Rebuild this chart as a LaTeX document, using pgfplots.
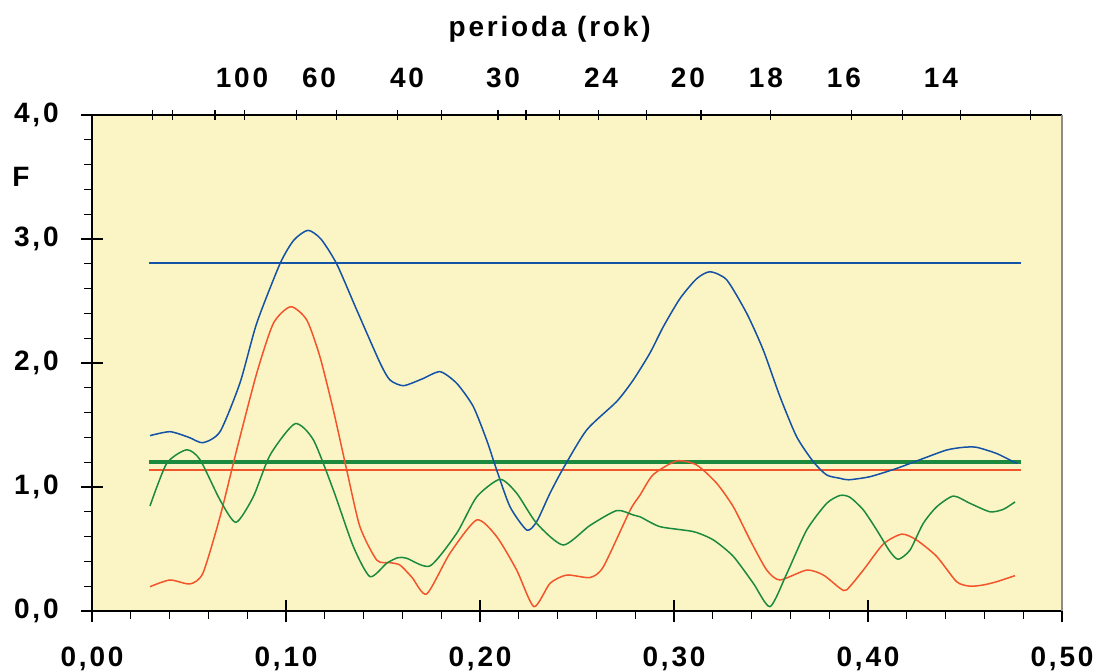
\documentclass[border=0pt]{standalone}
\usepackage{fontspec}
\setmainfont{Liberation Sans}[LetterSpace=10]
\usepackage{pgfplots}
\pgfplotsset{compat=1.18}
\definecolor{bgy}{RGB}{251,245,197}
\definecolor{cblue}{RGB}{20,82,165}
\definecolor{cred}{RGB}{242,84,44}
\definecolor{cgreen}{RGB}{28,138,62}
\newcommand{\lf}{\fontsize{14}{16}\selectfont\bfseries}
\begin{document}
\begin{tikzpicture}
\path[use as bounding box] (-46pt,-30.5pt) rectangle (502.5pt,305.5pt);
\begin{axis}[at={(0,0)}, anchor=south west, scale only axis,
  width=485pt, height=248pt,
  xmin=0, xmax=0.5, ymin=0, ymax=4,
  axis x line*=bottom, axis y line*=left,
  axis line style={line width=0.75pt, black, -},
  axis background/.style={fill=bgy},
  xtick={0,0.1,0.2,0.3,0.4,0.5},
  xticklabels={{0,00},{0,10},{0,20},{0,30},{0,40},{0,50}},
  ytick={0,1,2,3,4},
  yticklabels={{0,0},{1,0},{2,0},{3,0},{4,0}},
  minor x tick num=4, minor y tick num=4,
  tick align=outside,
  major tick length=5.5pt, minor tick length=3.8pt,
  tick style={black, line width=0.6pt},
  extra x ticks={0,0.1,0.2,0.3,0.4,0.5}, extra x tick labels={},
  extra y ticks={0,1,2,3,4}, extra y tick labels={},
  extra tick style={tick align=inside, minor tick num=0},
  tick label style={font=\lf},
  yticklabel style={anchor=east, inner sep=0pt, xshift=-11pt},
  xticklabel style={anchor=base, inner sep=0pt, yshift=-22.5pt},
  clip=false,
]
% threshold lines
\addplot[cblue, line width=1.2pt] coordinates {(0.0294,2.806) (0.479,2.806)};
\addplot[cgreen, line width=2pt] coordinates {(0.0294,1.200) (0.479,1.200)};
\addplot[cred, line width=1.3pt] coordinates {(0.0294,1.137) (0.479,1.137)};
% blue curve
\addplot[cblue, line width=0.75pt, smooth, tension=0.4] coordinates {
(0.0299,1.414) (0.0402,1.446) (0.050,1.40) (0.0572,1.357) (0.066,1.446)
(0.0763,1.84) (0.0849,2.32) (0.0969,2.80) (0.104,2.99) (0.1113,3.07)
(0.118,3.00) (0.1261,2.80) (0.1364,2.43) (0.1485,2.00) (0.1536,1.863)
(0.1605,1.817) (0.1700,1.87) (0.1794,1.93) (0.188,1.836) (0.1965,1.65)
(0.2034,1.38) (0.2086,1.137) (0.2155,0.84) (0.2241,0.653) (0.2292,0.72)
(0.2361,0.95) (0.2429,1.15) (0.255,1.46) (0.2705,1.69) (0.279,1.863)
(0.2876,2.08) (0.2945,2.293) (0.3031,2.52) (0.3117,2.68) (0.3186,2.736)
(0.3272,2.67) (0.3375,2.40) (0.346,2.105) (0.3546,1.73) (0.3632,1.406)
(0.3718,1.204) (0.3787,1.097) (0.3856,1.07) (0.390,1.058) (0.401,1.083)
(0.4148,1.15) (0.4285,1.23) (0.4405,1.298) (0.4491,1.32) (0.456,1.32)
(0.4663,1.27) (0.4749,1.204) (0.477,1.19)};
% red curve
\addplot[cred, line width=0.75pt, smooth, tension=0.4] coordinates {
(0.0299,0.196) (0.0402,0.25) (0.0505,0.218) (0.0572,0.306) (0.066,0.76)
(0.0746,1.30) (0.0849,1.917) (0.0935,2.32) (0.1024,2.454) (0.1107,2.347)
(0.1175,2.05) (0.1244,1.62) (0.1313,1.137) (0.1381,0.68) (0.1468,0.41)
(0.1536,0.39) (0.1588,0.37) (0.1650,0.27) (0.1725,0.137) (0.1845,0.465)
(0.1983,0.734) (0.2086,0.60) (0.2189,0.33) (0.2278,0.035) (0.2361,0.223)
(0.2447,0.29) (0.2567,0.27) (0.2636,0.357) (0.2773,0.81) (0.2825,0.935)
(0.2893,1.10) (0.3014,1.21) (0.3117,1.177) (0.322,1.03) (0.3306,0.84)
(0.3392,0.573) (0.3478,0.33) (0.3546,0.25) (0.3684,0.33) (0.377,0.29)
(0.3856,0.183) (0.389,0.17) (0.3976,0.33) (0.4079,0.54) (0.4174,0.62)
(0.425,0.573) (0.4354,0.44) (0.4457,0.236) (0.4526,0.20) (0.4595,0.21)
(0.4663,0.236) (0.4758,0.285)};
% green curve
\addplot[cgreen, line width=0.75pt, smooth, tension=0.4] coordinates {
(0.0299,0.847) (0.0385,1.19) (0.0488,1.30) (0.0557,1.22) (0.066,0.895)
(0.0742,0.715) (0.0831,0.92) (0.0918,1.258) (0.1046,1.51) (0.1141,1.38)
(0.1244,0.976) (0.1347,0.52) (0.1433,0.277) (0.1519,0.385) (0.1577,0.43)
(0.1622,0.425) (0.1742,0.363) (0.188,0.627) (0.1983,0.92) (0.2103,1.062)
(0.2189,0.95) (0.2292,0.707) (0.2429,0.532) (0.2567,0.69) (0.2705,0.81)
(0.279,0.774) (0.2825,0.76) (0.2928,0.68) (0.31,0.64) (0.3203,0.573)
(0.3306,0.44) (0.3409,0.223) (0.3495,0.035) (0.3581,0.30) (0.3684,0.653)
(0.3787,0.868) (0.3856,0.932) (0.3907,0.917) (0.3976,0.815) (0.4045,0.653)
(0.4113,0.48) (0.4156,0.417) (0.4216,0.49) (0.4285,0.707) (0.4354,0.84)
(0.444,0.927) (0.4526,0.868) (0.4629,0.80) (0.4698,0.82) (0.4758,0.88)};
% labels
\node[font=\lf, anchor=center] at (axis cs:-0.0366,3.5) {F};
\node[font=\lf, anchor=base] at (axis cs:0.2359,4.629) {perioda (rok)};
\node[font=\lf, anchor=base] at (axis cs:0.0773,4.22) {100};
\node[font=\lf, anchor=base] at (axis cs:0.1170,4.22) {60};
\node[font=\lf, anchor=base] at (axis cs:0.1624,4.22) {40};
\node[font=\lf, anchor=base] at (axis cs:0.2119,4.22) {30};
\node[font=\lf, anchor=base] at (axis cs:0.2624,4.22) {24};
\node[font=\lf, anchor=base] at (axis cs:0.3072,4.22) {20};
\node[font=\lf, anchor=base] at (axis cs:0.3474,4.22) {18};
\node[font=\lf, anchor=base] at (axis cs:0.3876,4.22) {16};
\node[font=\lf, anchor=base] at (axis cs:0.4376,4.22) {14};
\end{axis}
\begin{axis}[at={(0,0)}, anchor=south west, scale only axis,
  width=485pt, height=248pt,
  xmin=0, xmax=0.5, ymin=0, ymax=4,
  axis x line*=top, axis y line*=right,
  x axis line style={line width=0.75pt, black, -},
  y axis line style={line width=1pt, black!45, -},
  xtick={0.0312,0.0417,0.0634,0.0788,0.1054,0.1261,0.1574,0.1800,0.2093,0.2237,0.2410,0.2611,0.2859,0.3139,0.3499,0.3917,0.4177,0.4475,0.4836},
  xticklabels={}, ytick=\empty,
  tick align=center, major tick length=5.25pt,
  tick style={black, line width=0.6pt},
]
\end{axis}
\end{tikzpicture}
\end{document}
